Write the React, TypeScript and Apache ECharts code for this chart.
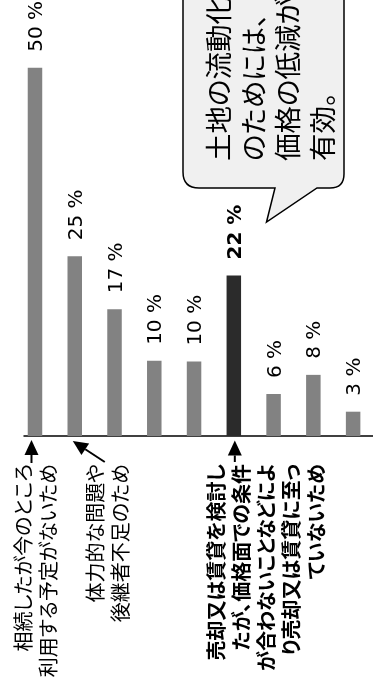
import React, { useEffect, useRef } from "react";
import * as echarts from "echarts";

const categories = [
  "相続したが今のところ\n利用する予定がないため",
  "体力的な問題や\n後継者不足のため",
  "",
  "",
  "",
  "売却又は賃貸を検討し\nたが、価格面での条件\nが合わないことなどによ\nり売却又は賃貸に至っ\nていないため",
  "",
  "",
  "",
];
const values = [50, 24.4, 17.2, 10.2, 10.1, 21.8, 5.7, 8.3, 3.3];
const valueLabels = ["50 %", "25 %", "17 %", "10 %", "10 %", "22 %", "6 %", "8 %", "3 %"];
const highlightIndex = 5;
const calloutLines = ["土地の流動化", "のためには、", "価格の低減が", "有効。"];

const JP = "'Noto Sans CJK JP', sans-serif";

const bubblePath =
  "M183 -10 L183 172 Q183 188 199 188 L275 188 L266.5 222 L317 188 L330 188 Q344 188 344 174 L344 -10 Z";
echarts.graphic.registerShape("bubble", echarts.graphic.extendPath(bubblePath, {}));

function arrow(tip: number[], tail: number[]) {
  const dx = tip[0] - tail[0];
  const dy = tip[1] - tail[1];
  const len = Math.sqrt(dx * dx + dy * dy);
  const ux = dx / len;
  const uy = dy / len;
  const head = 15;
  const half = 7;
  const bx = tip[0] - ux * head;
  const by = tip[1] - uy * head;
  return [
    {
      type: "line",
      shape: { x1: tail[0], y1: tail[1], x2: bx, y2: by },
      style: { stroke: "#000", lineWidth: 2 },
    },
    {
      type: "polygon",
      shape: {
        points: [
          [tip[0], tip[1]],
          [bx - uy * half, by + ux * half],
          [bx + uy * half, by - ux * half],
        ],
      },
      style: { fill: "#000" },
    },
  ];
}

export default function App() {
  const ref = useRef<HTMLDivElement>(null);
  useEffect(() => {
    const chart = echarts.init(ref.current!, null, { renderer: "svg" });
    chart.setOption({
      animation: false,
      grid: { left: 15.1, width: 367.2, top: 67.7, bottom: 248 },
      xAxis: {
        type: "category",
        data: categories.map((c, i) => ({ value: String(i), name: c })),
        axisLine: { show: false },
        axisTick: { show: false },
        axisLabel: { show: false },
      },
      yAxis: { type: "value", min: 0, max: 50, show: false, splitLine: { show: false } },
      series: [
        {
          type: "bar",
          barWidth: 14.5,
          data: values.map((v, i) =>
            i === highlightIndex
              ? { value: v, itemStyle: { color: "#2b2b2b" }, label: { fontWeight: "bold" } }
              : v
          ),
          itemStyle: { color: "#828282" },
          label: {
            show: true,
            position: "top",
            distance: 16,
            rotate: 90,
            align: "left",
            verticalAlign: "middle",
            formatter: (p: any) => valueLabels[p.dataIndex],
            fontFamily: "'DejaVu Sans', sans-serif",
            fontSize: 20,
            color: "#000",
          },
        },
      ],
    });

    const pt = (i: number) => chart.convertToPixel({ gridIndex: 0 }, [i, 0]) as number[];
    const base = pt(0)[1];
    const labelOffsets = [0, 32.5, 0, 0, 0, 32, 0, 0, 0];
    const arrowDefs: Record<number, { tip: number[]; tail: number[] }> = {
      0: { tip: [-3.5, 4], tail: [-3.5, 27] },
      1: { tip: [-2, 5], tail: [30, 26] },
      5: { tip: [1, 4.5], tail: [1, 26] },
    };
    const graphics: any[] = [
      {
        type: "line",
        shape: { x1: pt(0)[0] - 11.5, y1: base, x2: 380, y2: base },
        style: { stroke: "#000", lineWidth: 1.5 },
      },
      {
        type: "bubble",
        x: 0,
        y: 0,
        style: { fill: "#f0f0f0", stroke: "#000", lineWidth: 1.5 },
      },
      {
        type: "text",
        x: 269,
        y: 161,
        rotation: Math.PI / 2,
        style: {
          text: calloutLines.join("\n"),
          fontFamily: JP,
          fontSize: 27.5,
          lineHeight: 34.7,
          fill: "#000",
          align: "left",
          verticalAlign: "middle",
          textAlign: "left",
          textVerticalAlign: "middle",
        },
      },
    ];
    categories.forEach((c, i) => {
      if (!c) return;
      const cx = pt(i)[0];
      graphics.push({
        type: "text",
        x: cx + labelOffsets[i],
        y: base + 28,
        rotation: Math.PI / 2,
        style: {
          text: c,
          fontFamily: JP,
          fontSize: 20,
          fontWeight: i === highlightIndex ? "bold" : "normal",
          lineHeight: 25,
          fill: "#000",
          align: "right",
          verticalAlign: "middle",
          textAlign: "right",
          textVerticalAlign: "middle",
        },
      });
      const a = arrowDefs[i];
      if (a) {
        graphics.push(
          ...arrow([cx + a.tip[0], base + a.tip[1]], [cx + a.tail[0], base + a.tail[1]])
        );
      }
    });
    chart.setOption({ graphic: graphics });
    return () => chart.dispose();
  }, []);
  return (
    <>
      <style>{`#root svg text{font-feature-settings:"palt" 1 !important;}`}</style>
      <div
        ref={ref}
        style={{ position: "fixed", left: 0, top: 0, width: 373, height: 684 }}
      />
    </>
  );
}
